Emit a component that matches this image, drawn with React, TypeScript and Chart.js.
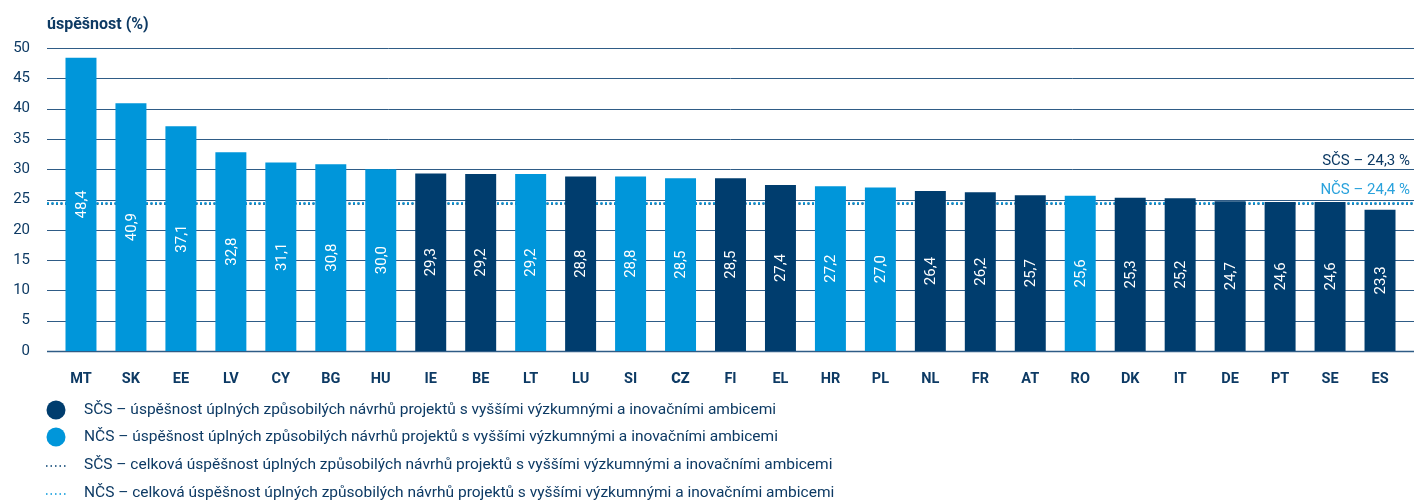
import React, { useEffect, useRef } from "react";
import { Chart, registerables } from "chart.js";

Chart.register(...registerables);

const categories = ["MT","SK","EE","LV","CY","BG","HU","IE","BE","LT","LU","SI","CZ","FI","EL","HR","PL","NL","FR","AT","RO","DK","IT","DE","PT","SE","ES"];
const values = [48.4,40.9,37.1,32.8,31.1,30.8,30.0,29.3,29.2,29.2,28.8,28.8,28.5,28.5,27.4,27.2,27.0,26.4,26.2,25.7,25.6,25.3,25.2,24.7,24.6,24.6,23.3];
// S = SČS (dark), N = NČS (light)
const groups = ["N","N","N","N","N","N","N","S","S","N","S","N","N","S","S","N","N","S","S","S","N","S","S","S","S","S","S"];
const yTicks = [0,5,10,15,20,25,30,35,40,45,50];
const scsTotal = 24.3;
const ncsTotal = 24.4;
const legendLabels = [
  "SČS – úspěšnost úplných způsobilých návrhů projektů s vyššími výzkumnými a inovačními ambicemi",
  "NČS – úspěšnost úplných způsobilých návrhů projektů s vyššími výzkumnými a inovačními ambicemi",
  "SČS – celková úspěšnost úplných způsobilých návrhů projektů s vyššími výzkumnými a inovačními ambicemi",
  "NČS – celková úspěšnost úplných způsobilých návrhů projektů s vyššími výzkumnými a inovačními ambicemi",
];
const titleText = "úspěšnost (%)";

const DARK = "#003d6e";
const LIGHT = "#0096da";
const LIGHT_TEXT = "#2aa2dc";
const TEXT = "#0d3a64";
const GRID = "#2f5c86";
const FONT = "Roboto, 'Noto Sans', sans-serif";

const fmt = (v: number) => v.toFixed(1).replace(".", ",");

export default function App() {
  const ref = useRef<HTMLCanvasElement | null>(null);

  useEffect(() => {
    if (!ref.current) return;

    const overlay = {
      id: "overlay",
      beforeDatasetsDraw(chart: any) {
        const ctx = chart.ctx;
        const ys = chart.scales.y;
        const area = chart.chartArea;
        ctx.save();
        ctx.strokeStyle = GRID;
        yTicks.forEach((t) => {
          ctx.lineWidth = t === 0 ? 1.5 : 1;
          const y = Math.round(ys.getPixelForValue(t)) + 0.5;
          ctx.beginPath();
          ctx.moveTo(area.left - 9, y);
          ctx.lineTo(area.right + 9, y);
          ctx.stroke();
        });
        // reference dotted lines
        ctx.lineWidth = 2;
        ctx.setLineDash([2, 2.5]);
        [[scsTotal, DARK], [ncsTotal, LIGHT]].forEach(([v, c]) => {
          const y = ys.getPixelForValue(v as number);
          ctx.strokeStyle = c as string;
          ctx.beginPath();
          ctx.moveTo(area.left - 9, y);
          ctx.lineTo(area.right + 9, y);
          ctx.stroke();
        });
        ctx.restore();
      },
      afterDatasetsDraw(chart: any) {
        const ctx = chart.ctx;
        const xs = chart.scales.x;
        const ys = chart.scales.y;
        const area = chart.chartArea;
        ctx.save();
        // value labels
        ctx.fillStyle = "#ffffff";
        ctx.font = `15px ${FONT}`;
        ctx.textAlign = "center";
        ctx.textBaseline = "middle";
        values.forEach((v, i) => {
          const x = xs.getPixelForValue(i);
          const y = ys.getPixelForValue(v / 2);
          ctx.save();
          ctx.translate(x, y);
          ctx.rotate(-Math.PI / 2);
          ctx.fillText(fmt(v), 0, 1);
          ctx.restore();
        });
        // reference labels
        ctx.font = `15px ${FONT}`;
        ctx.textAlign = "right";
        ctx.textBaseline = "alphabetic";
        const yRef = ys.getPixelForValue(scsTotal);
        ctx.fillStyle = TEXT;
        ctx.fillText(`SČS – ${fmt(scsTotal)} %`, area.right + 5, yRef - 39);
        ctx.fillStyle = LIGHT_TEXT;
        ctx.fillText(`NČS – ${fmt(ncsTotal)} %`, area.right + 5, yRef - 10);
        // title
        ctx.fillStyle = TEXT;
        ctx.font = `bold 16px ${FONT}`;
        ctx.textAlign = "left";
        ctx.textBaseline = "middle";
        ctx.fillText(titleText, area.left - 9, 25);
        // legend
        const rows = [410, 437, 465, 493];
        ctx.font = `15.5px ${FONT}`;
        legendLabels.forEach((lab, i) => {
          const cy = rows[i];
          if (i < 2) {
            ctx.fillStyle = i === 0 ? DARK : LIGHT;
            ctx.beginPath();
            ctx.arc(56, cy, 9.5, 0, Math.PI * 2);
            ctx.fill();
          } else {
            ctx.strokeStyle = i === 2 ? DARK : LIGHT;
            ctx.lineWidth = 1.5;
            ctx.setLineDash([1.5, 3]);
            ctx.beginPath();
            ctx.moveTo(46, cy + 1);
            ctx.lineTo(68, cy + 1);
            ctx.stroke();
            ctx.setLineDash([]);
          }
          ctx.fillStyle = TEXT;
          ctx.textBaseline = "middle";
          ctx.fillText(lab, 84, cy);
        });
        ctx.restore();
      },
    };

    const chart = new Chart(ref.current, {
      type: "bar",
      data: {
        labels: categories,
        datasets: [
          {
            label: "SČS",
            data: values.map((v, i) => (groups[i] === "S" ? v : null)),
            backgroundColor: DARK,
            grouped: false,
            barPercentage: 0.62,
            categoryPercentage: 1,
          } as any,
          {
            label: "NČS",
            data: values.map((v, i) => (groups[i] === "N" ? v : null)),
            backgroundColor: LIGHT,
            grouped: false,
            barPercentage: 0.62,
            categoryPercentage: 1,
          } as any,
        ],
      },
      options: {
        responsive: false,
        animation: false,
        devicePixelRatio: 1,
        layout: { padding: { top: 48, right: 9, bottom: 107, left: 0 } },
        plugins: { legend: { display: false }, tooltip: { enabled: false }, title: { display: false } },
        scales: {
          x: {
            offset: true,
            grid: { display: false, drawTicks: false },
            border: { display: false },
            ticks: {
              padding: 20,
              color: TEXT,
              font: (c: any) => ({ family: FONT, size: 14.5, weight: categories[c.index] === "CZ" ? "900" : "bold" }),
            } as any,
            afterFit: (s: any) => { s.height = 44; },
          },
          y: {
            min: 0,
            max: 50,
            grid: { display: false, drawTicks: false },
            border: { display: false },
            ticks: { stepSize: 5, padding: 26, color: TEXT, font: { family: FONT, size: 15 } },
            afterFit: (s: any) => { s.width = 56; },
          },
        },
      },
      plugins: [overlay],
    });
    return () => chart.destroy();
  }, []);

  return (
    <div style={{ position: "absolute", left: 0, top: 0, width: 1414, height: 502, background: "#fff" }}>
      <canvas ref={ref} width={1414} height={502} style={{ width: 1414, height: 502 }} />
    </div>
  );
}
